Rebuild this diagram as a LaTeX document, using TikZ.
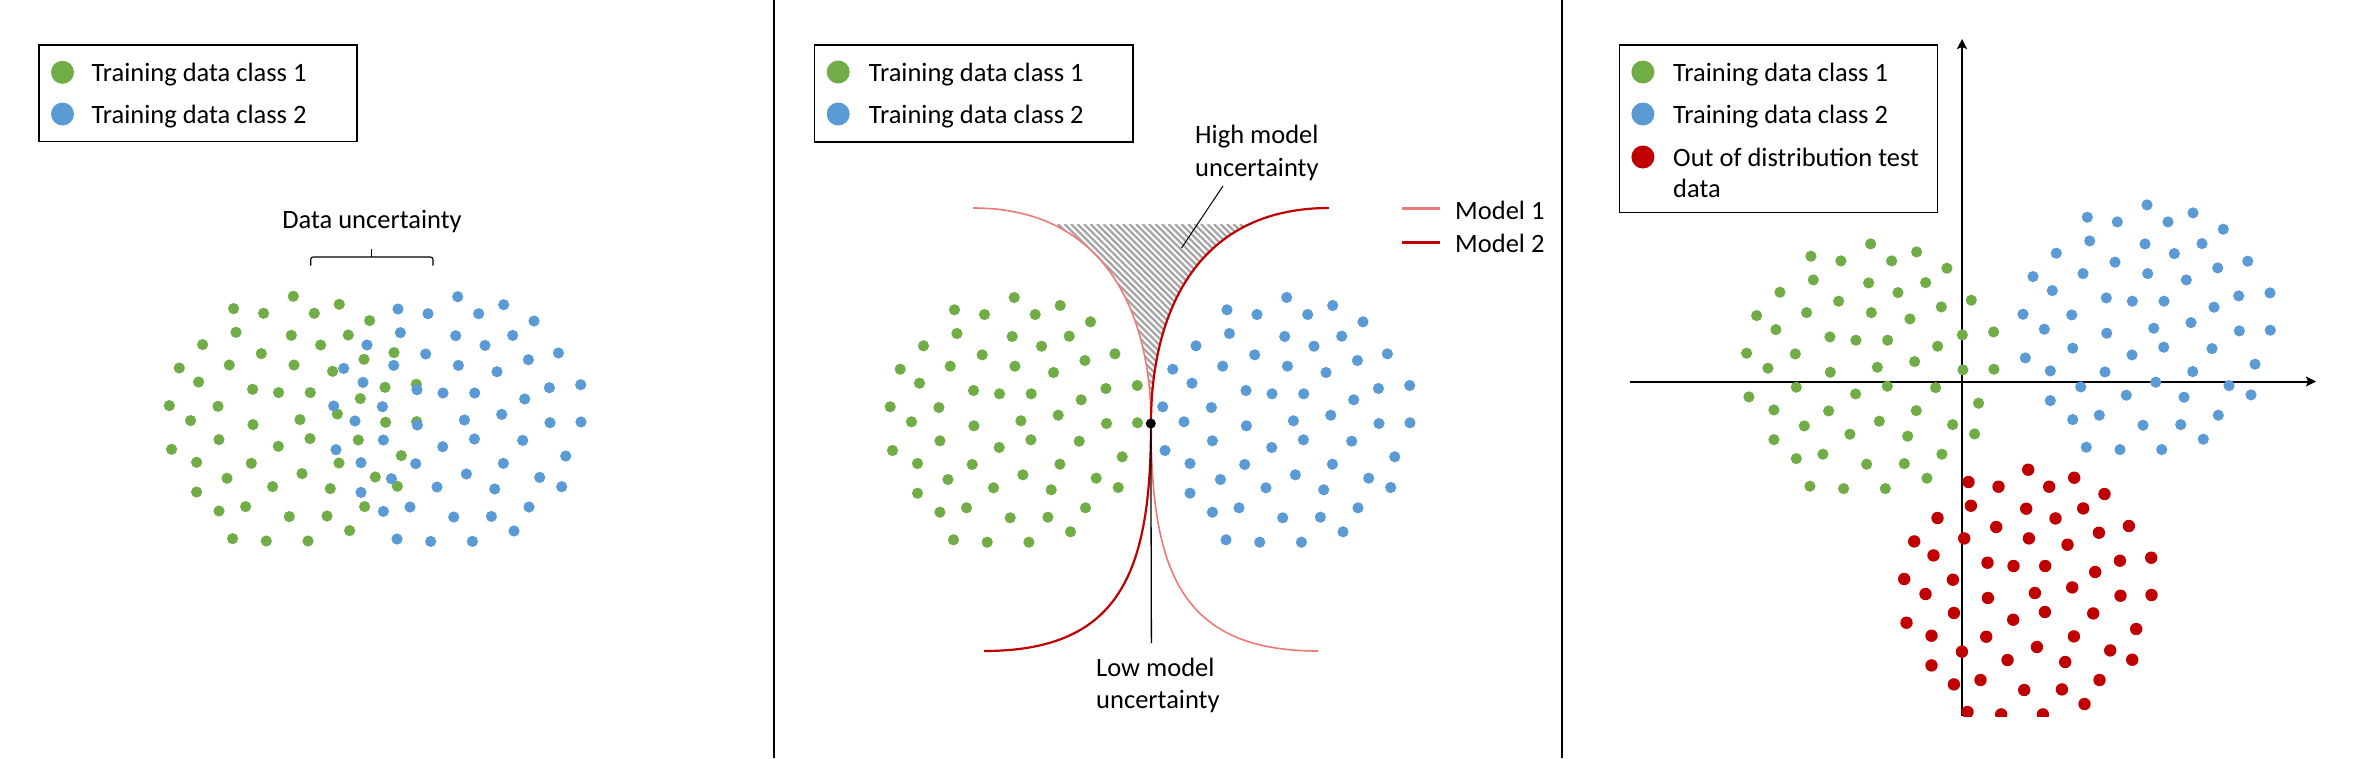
\documentclass[tikz,border=0pt]{standalone}
\usepackage{fontspec}
\setmainfont{Carlito}
\usetikzlibrary{arrows.meta}
\definecolor{cgreen}{RGB}{112,173,71}
\definecolor{cblue}{RGB}{91,155,213}
\definecolor{cred}{RGB}{192,0,0}
\definecolor{mone}{RGB}{240,120,120}
\definecolor{hatchgray}{RGB}{166,166,166}
\def\cloudpts{0/0, -59.7/12.3, -29.7/17, 21/17, 46/8, 76.3/24.3, -57.3/36, -2/39, 55/38.7, -90.7/48.3, -32/57.3, 27.3/48.7, 70.7/63, 100.7/56.3, -114/71.7, -64/68.7, 0.7/68.7, 39.3/75, -94.7/85.7, -40.7/93, -14.7/96.3, 17/96.3, 91.7/91, 123/88, 67/102.3, -124/109.3, -75.3/110, 44/117.7, -102.7/124.3, -40.3/128.3, 6.7/123.3, 92.3/126, 123.3/125.3, -121.7/153, -74.3/143.3, -15/150, 16.7/142.3, 65/143.7, -96.7/166, -42/167, 45.7/166.7, 108/159.3, -66.3/182, 8.7/177.3, 82/180.7, 104/190, -96.7/195.7, -20.7/190.3, 37/192.3, -74.3/214.7, -47.7/210.3, -4/220.3, 33.7/219.7, 71.3/210.3, 56.3/234.3, -60.7/242.3, -27/244.7, 14.7/244.7}
\tikzset{
  txt/.style={inner sep=0pt, font=\fontsize{26.5}{31}\selectfont, anchor=base west},
  legbox/.style={draw=black, line width=1.5pt},
  sep/.style={draw=black, line width=2pt},
  leader/.style={draw=black, line width=1pt},
  axis/.style={draw=black, line width=2pt, -{Stealth[length=10pt,width=10pt,inset=2pt]}},
  modelone/.style={draw=mone, line width=1.6pt},
  modeltwo/.style={draw=cred, line width=2.2pt},
  hatchline/.style={draw=hatchgray, line width=2.2pt},
}
\newcommand{\cloud}[4]{% x, y, colour, radius
  \begin{scope}[shift={(#1,#2)}]
    \foreach \a/\b in \cloudpts { \fill[#3] (\a,\b) circle[radius=#4pt]; }
  \end{scope}}
\begin{document}
\begin{tikzpicture}[x=1pt,y=-1pt]
\useasboundingbox (0,0) rectangle (2368,758);
\fill[white] (0,0) rectangle (2368,758);
% separators
\coordinate (s1t) at (774,0); \coordinate (s1b) at (774,758);
\coordinate (s2t) at (1562,0); \coordinate (s2b) at (1562,758);
\draw[sep] (s1t) -- (s1b);
\draw[sep] (s2t) -- (s2b);

% ===== Panel 1 =====
\draw[legbox] (39,45) rectangle (357,141.5);
\fill[cgreen] (62.5,72.3) circle[radius=11.5pt];
\fill[cblue] (62.5,114) circle[radius=11.5pt];
\node[txt] (l1a) at (91.5,81) {Training data class 1};
\node[txt] (l1b) at (91.5,123) {Training data class 2};
\node[txt, anchor=base] (du) at (372,228) {Data uncertainty};
\draw[leader, line width=1.1pt, rounded corners=2.5pt] (310.7,265.5) -- (310.7,257) -- (433,257) -- (433,265.5);
\coordinate (brm) at (371.7,257); \coordinate (brt) at (371.7,249);
\draw[leader, line width=1.1pt] (brm) -- (brt);
\cloud{293.3}{296.3}{cgreen}{5.6}
\cloud{457.7}{296.7}{cblue}{5.6}

% ===== Panel 2 =====
\draw[legbox] (814.4,45.2) rectangle (1133,141.9);
\fill[cgreen] (838.2,72) circle[radius=11.5pt];
\fill[cblue] (838.2,114) circle[radius=11.5pt];
\node[txt] (l2a) at (868.6,81) {Training data class 1};
\node[txt] (l2b) at (868.6,123) {Training data class 2};
% hatch
\begin{scope}
  \clip (960,224) rectangle (1340,430);
  \clip (973,208) .. controls (1110,208) and (1151,320) .. (1151,423)
        .. controls (1151,320) and (1192,208) .. (1329,208) -- cycle;
  \foreach \i in {0,...,64} { \draw[hatchline] (850+\i*6.5,224) -- ++(220,220); }
\end{scope}
\cloud{1014.2}{297.5}{cgreen}{5.6}
\cloud{1286.7}{297.5}{cblue}{5.6}
% model curves
\draw[modelone] (973,208) .. controls (1110,208) and (1151,320) .. (1151,423)
   .. controls (1151,570) and (1180,651) .. (1318,651);
\draw[modeltwo] (1329,208) .. controls (1192,208) and (1151,320) .. (1151,423)
   .. controls (1151,570) and (1122,651) .. (984,651);
% labels
\node[txt] (hm1) at (1195,143.3) {High model};
\node[txt] (hm2) at (1195,176) {uncertainty};
\coordinate (hmA) at (1223,186); \coordinate (hmB) at (1181.5,248);
\draw[leader] (hmA) -- (hmB);
\node[circle, fill=black, inner sep=0pt, minimum size=10pt] (lowdot) at (1150.8,423.5) {};
\coordinate (lowend) at (1151.4,643);
\draw[leader, line width=1.3pt] (lowdot.center) -- (lowend);
\node[txt] (lm1) at (1096,676.5) {Low model};
\node[txt] (lm2) at (1096,708) {uncertainty};
% model legend
\coordinate (m1a) at (1402,208.3); \coordinate (m1b) at (1440.3,208.3);
\coordinate (m2a) at (1402,242.7); \coordinate (m2b) at (1440.3,242.7);
\draw[modelone, line width=3pt] (m1a) -- (m1b);
\draw[modeltwo, line width=3.3pt] (m2a) -- (m2b);
\node[txt] (ml1) at (1455,219.6) {Model 1};
\node[txt] (ml2) at (1455,252.7) {Model 2};

% ===== Panel 3 =====
\draw[legbox] (1619.6,45.2) rectangle (1937.7,212.3);
\fill[cgreen] (1642.9,72) circle[radius=11.5pt];
\fill[cblue] (1642.9,114) circle[radius=11.5pt];
\fill[cred] (1642.9,157) circle[radius=11.5pt];
\node[txt] (l3a) at (1673,81) {Training data class 1};
\node[txt] (l3b) at (1673,123) {Training data class 2};
\node[txt] (l3c) at (1673,166) {Out of distribution test};
\node[txt] (l3d) at (1673,197.5) {data};
\coordinate (axL) at (1630,381.5); \coordinate (axR) at (2316,381.5);
\coordinate (axB) at (1962,716); \coordinate (axT) at (1962,39);
\draw[axis] (axL) -- (axR);
\draw[axis] (axB) -- (axT);
\cloud{1870.6}{243.9}{cgreen}{5.6}
\cloud{2147}{204.9}{cblue}{5.6}
\begin{scope}
  \clip (1800,440) rectangle (2200,716);
  \cloud{2028.2}{469.7}{cred}{6.2}
\end{scope}
\end{tikzpicture}
\end{document}
